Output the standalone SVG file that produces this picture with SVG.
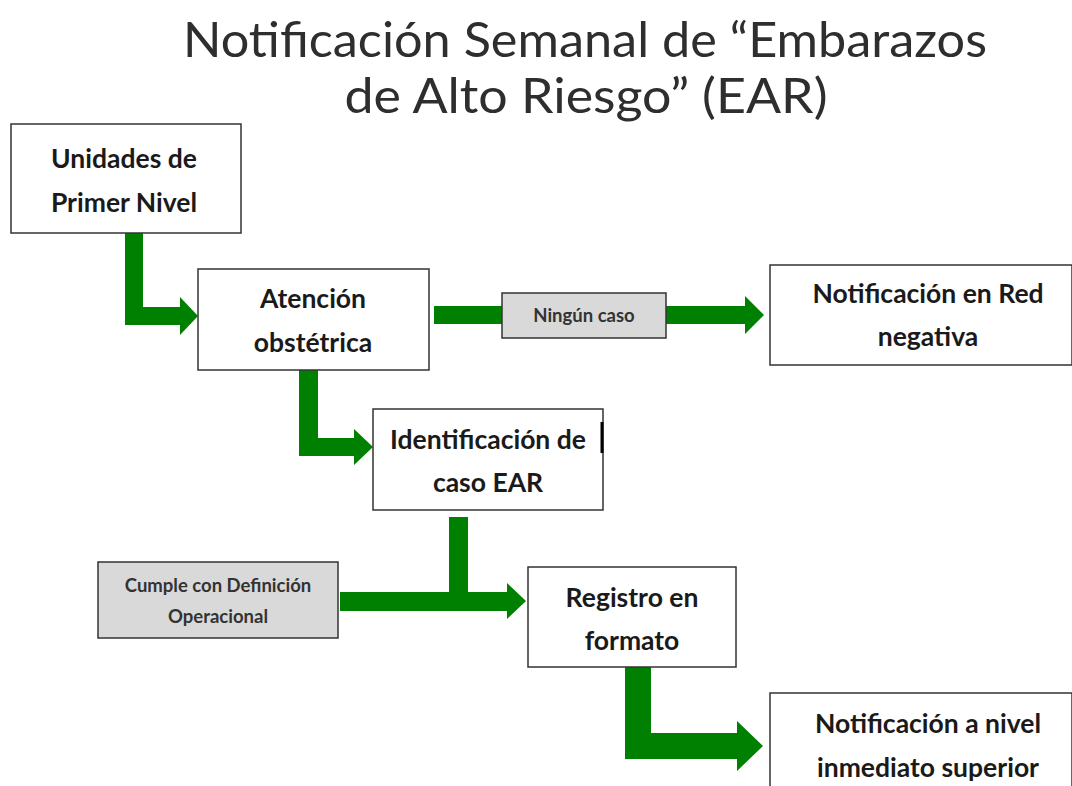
<svg xmlns="http://www.w3.org/2000/svg" width="1072" height="786" viewBox="0 0 1072 786">
<style>
.box{fill:#ffffff;stroke:#333333;stroke-width:1.5}
.gbox{fill:#d9d9d9;stroke:#333333;stroke-width:1.5}
.t{font-family:Lato,"Liberation Sans",sans-serif;font-weight:bold;font-size:26.5px;fill:#1a1a1a;text-anchor:middle}
.s{font-family:Lato,"Liberation Sans",sans-serif;font-weight:bold;font-size:18.5px;fill:#333333;text-anchor:middle}
.title{font-family:Lato,"Liberation Sans",sans-serif;font-size:48px;fill:#2e2e2e;text-anchor:middle}
.arrow{fill:#008000}
</style>
<rect width="1072" height="786" fill="#ffffff"/>
<g id="title">
<text class="title" x="585" y="57" textLength="804" lengthAdjust="spacingAndGlyphs">Notificación Semanal de “Embarazos</text>
<text class="title" x="586" y="113" textLength="483" lengthAdjust="spacingAndGlyphs">de Alto Riesgo” (EAR)</text>
</g>
<g id="connectors">
<path class="arrow" d="M125,233 H143 V307 H180 V297 L198,316 L180,335 V325 H125 Z"/>
<path class="arrow" d="M434,306 H745 V296 L764,315 L745,334 V324 H434 Z"/>
<path class="arrow" d="M299,370 H318 V438 H354 V429 L373,447 L354,465 V456 H299 Z"/>
<path class="arrow" d="M449,517 H468 V592 H507 V583 L526,601 L507,619 V611 H340 V592 H449 Z"/>
<path class="arrow" d="M625,667 H651 V733 H737 V721 L763,746 L737,771 V759 H625 Z"/>
</g>
<g id="unidades">
<rect class="box" x="11" y="124" width="230" height="109"/>
<text class="t" x="124" y="168">Unidades de</text>
<text class="t" x="124" y="212">Primer Nivel</text>
</g>
<g id="atencion">
<rect class="box" x="198" y="269" width="231" height="101"/>
<text class="t" x="313" y="308">Atención</text>
<text class="t" x="313" y="352">obstétrica</text>
</g>
<g id="ningun">
<rect class="gbox" x="502" y="293" width="164" height="45"/>
<text class="s" x="584" y="322">Ningún caso</text>
</g>
<g id="negativa">
<rect class="box" x="770" y="265" width="302" height="100"/>
<text class="t" x="928" y="303">Notificación en Red</text>
<text class="t" x="928" y="346">negativa</text>
</g>
<g id="identificacion">
<rect class="box" x="373" y="409" width="230" height="101"/>
<line x1="602" y1="422" x2="602" y2="453" stroke="#000000" stroke-width="3"/>
<text class="t" x="488" y="449">Identificación de</text>
<text class="t" x="488" y="492">caso EAR</text>
</g>
<g id="cumple">
<rect class="gbox" x="98" y="562" width="240" height="76"/>
<text class="s" x="218" y="592">Cumple con Definición</text>
<text class="s" x="218" y="623">Operacional</text>
</g>
<g id="registro">
<rect class="box" x="528" y="567" width="208" height="100"/>
<text class="t" x="632" y="607">Registro en</text>
<text class="t" x="632" y="650">formato</text>
</g>
<g id="superior">
<rect class="box" x="770" y="693" width="302" height="100"/>
<text class="t" x="928" y="733">Notificación a nivel</text>
<text class="t" x="928" y="777">inmediato superior</text>
</g>
</svg>
